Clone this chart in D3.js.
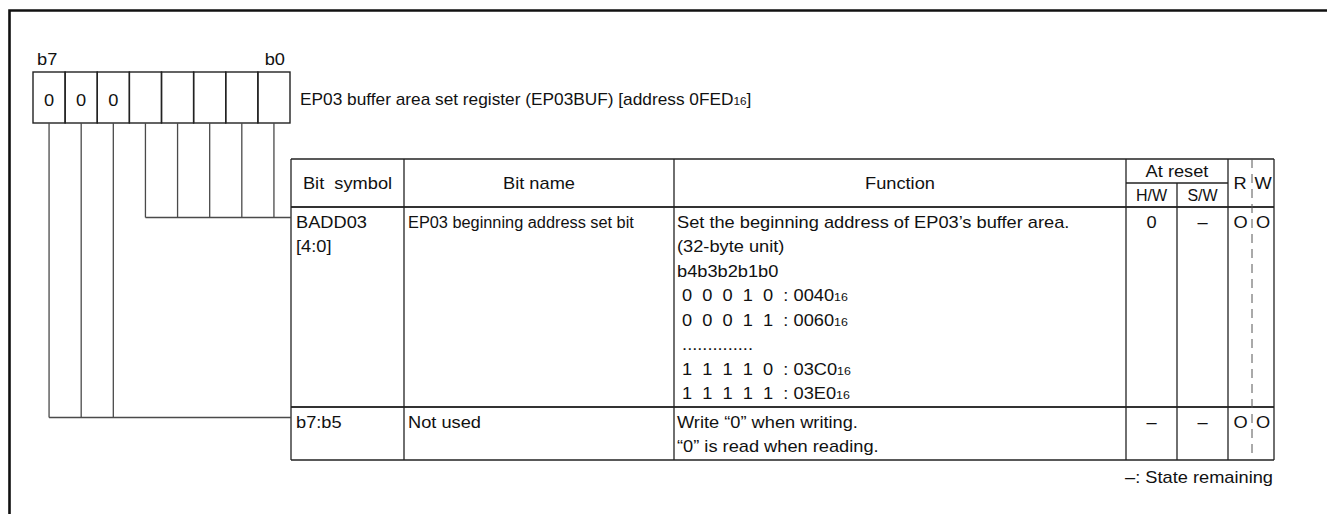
<!DOCTYPE html>
<html><head><meta charset="utf-8">
<script src="https://cdn.jsdelivr.net/npm/d3@7/dist/d3.min.js"></script>
<style>
body{margin:0;background:#fff}
svg{display:block}
text{font-family:"Liberation Sans",Arial,Helvetica,sans-serif;fill:#111}
</style>
</head><body>
<svg id="c" width="1327" height="514"></svg>
<script>
// ---------- data ----------
const bitNames = ["b7","b6","b5","b4","b3","b2","b1","b0"];
const bitValues = ["0","0","0","","","","",""];
const edgeLabels = ["b7","b0"];
const registerTitle = "EP03 buffer area set register (EP03BUF) [address 0FED_{16}]";
const columnHeaders = ["Bit  symbol","Bit name","Function","At reset","R","W"];
const resetSubHeaders = ["H/W","S/W"];
const rowBitRanges = [[4,0],[7,5]];
const bitSymbols = [["BADD03","[4:0]"],["b7:b5"]];
const bitNameCells = [["EP03 beginning address set bit"],["Not used"]];
const functionCells = [
  ["Set the beginning address of EP03\u2019s buffer area.",
   "(32-byte unit)",
   "b4b3b2b1b0",
   " 0  0  0  1  0  : 0040_{16}",
   " 0  0  0  1  1  : 0060_{16}",
   " ..............",
   " 1  1  1  1  0  : 03C0_{16}",
   " 1  1  1  1  1  : 03E0_{16}"],
  ["Write \u201c0\u201d when writing.",
   "\u201c0\u201d is read when reading."]
];
const resetHW = ["0","\u2013"];
const resetSW = ["\u2013","\u2013"];
const readMarks = ["O","O"];
const writeMarks = ["O","O"];
const footNote = "\u2013: State remaining";

// ---------- layout ----------
const svg = d3.select("#c");
const SX = 1.14, FS = 16;
const lineCol = "#222", connCol = "#4a4a4a";

function addText(g, x, y, str, opts = {}) {
  const sx = opts.sx || SX, fs = opts.fs || FS;
  const t = g.append("text")
    .attr("transform", `translate(${x},${y}) scale(${sx},1)`)
    .attr("text-anchor", opts.anchor || "start")
    .attr("font-size", fs)
    .attr("xml:space", "preserve")
    .style("white-space", "pre");
  const parts = str.split(/_\{(\d+)\}/);
  parts.forEach((p, i) => {
    if (!p) return;
    const ts = t.append("tspan").text(p);
    if (i % 2 === 1) ts.attr("font-size", fs * 0.68);
  });
  return t;
}

// outer frame
svg.append("path").attr("d", "M9.5,514 V10.5 H1327")
  .attr("fill", "none").attr("stroke", "#111").attr("stroke-width", 2.6);

// register box
const box = {x0: 33, x1: 290, y0: 72, y1: 123};
const xBit = d3.scaleBand().domain(bitNames).range([box.x0, box.x1]).paddingInner(0).paddingOuter(0);
const gReg = svg.append("g");
gReg.selectAll("rect").data(bitNames).join("rect")
  .attr("x", d => xBit(d)).attr("y", box.y0)
  .attr("width", xBit.bandwidth()).attr("height", box.y1 - box.y0)
  .attr("fill", "none").attr("stroke", lineCol).attr("stroke-width", 1.4);
bitNames.forEach((b, i) => {
  if (bitValues[i]) addText(gReg, xBit(b) + xBit.bandwidth() / 2, 106, bitValues[i], {anchor: "middle"});
});
addText(gReg, xBit("b7") + 4, 65, edgeLabels[0]);
addText(gReg, xBit("b0") + xBit.bandwidth() - 5, 65, edgeLabels[1], {anchor: "end"});
addText(gReg, 300, 105, registerTitle, {sx: 1.08});

// table geometry
const cols = [291, 404, 674, 1126, 1177, 1228, 1252, 1274];
const hdrTop = 159, hdrMid = 183, hdrBot = 207;
const pitch = 24.5;
const lineCounts = functionCells.map((f, i) => Math.max(f.length, bitSymbols[i].length));
const rowTops = [];
let yy = hdrBot;
lineCounts.forEach(n => { rowTops.push(yy); yy += n * pitch + 4; });
const tableBottom = yy;
const rowLine = d3.scaleLinear().domain([0, 1]).range([0, pitch]);
const baseline = (r, k) => rowTops[r] + 20.5 + rowLine(k);

const gT = svg.append("g");
function hline(x0, x1, y, w = 1.3, c = lineCol) {
  gT.append("line").attr("x1", x0).attr("x2", x1).attr("y1", y).attr("y2", y)
    .attr("stroke", c).attr("stroke-width", w);
}
function vline(x, y0, y1, w = 1.3, c = lineCol) {
  gT.append("line").attr("x1", x).attr("x2", x).attr("y1", y0).attr("y2", y1)
    .attr("stroke", c).attr("stroke-width", w);
}
hline(cols[0], cols[7], hdrTop);
hline(cols[3], cols[5], hdrMid);
hline(cols[0], cols[7], hdrBot, 1.8, "#333");
rowTops.slice(1).forEach(y => hline(cols[0], cols[7], y, 1.8, "#333"));
hline(cols[0], cols[7], tableBottom);
[0, 1, 2, 3, 5, 7].forEach(i => vline(cols[i], hdrTop, tableBottom));
vline(cols[4], hdrMid, tableBottom);
gT.append("line").attr("x1", cols[6]).attr("x2", cols[6]).attr("y1", hdrTop).attr("y2", tableBottom)
  .attr("stroke", "#555").attr("stroke-width", 1).attr("stroke-dasharray", "9,6");

// headers
const hY = 188.5;
addText(gT, (cols[0] + cols[1]) / 2, hY, columnHeaders[0], {anchor: "middle"});
addText(gT, (cols[1] + cols[2]) / 2, hY, columnHeaders[1], {anchor: "middle"});
addText(gT, (cols[2] + cols[3]) / 2, hY, columnHeaders[2], {anchor: "middle"});
addText(gT, (cols[3] + cols[5]) / 2, 177, columnHeaders[3], {anchor: "middle"});
addText(gT, (cols[3] + cols[4]) / 2, 201, resetSubHeaders[0], {anchor: "middle", sx: 1.0});
addText(gT, (cols[4] + cols[5]) / 2, 201, resetSubHeaders[1], {anchor: "middle", sx: 1.0});
addText(gT, (cols[5] + cols[6]) / 2, hY, columnHeaders[4], {anchor: "middle"});
addText(gT, (cols[6] + cols[7]) / 2, hY, columnHeaders[5], {anchor: "middle"});

// rows
functionCells.forEach((fl, r) => {
  bitSymbols[r].forEach((s, k) => addText(gT, cols[0] + 5, baseline(r, k), s));
  bitNameCells[r].forEach((s, k) => addText(gT, cols[1] + 4, baseline(r, k), s, {sx: r === 0 ? 1.02 : SX}));
  fl.forEach((s, k) => addText(gT, cols[2] + 3, baseline(r, k), s));
  addText(gT, (cols[3] + cols[4]) / 2, baseline(r, 0), resetHW[r], {anchor: "middle"});
  addText(gT, (cols[4] + cols[5]) / 2, baseline(r, 0), resetSW[r], {anchor: "middle"});
  addText(gT, (cols[5] + cols[6]) / 2 + 0.5, baseline(r, 0), readMarks[r], {anchor: "middle"});
  addText(gT, (cols[6] + cols[7]) / 2, baseline(r, 0), writeMarks[r], {anchor: "middle"});
});

addText(gT, 1273, 483, footNote, {anchor: "end"});

// connectors
const gC = svg.append("g");
rowBitRanges.forEach(([hi, lo], r) => {
  const y = baseline(r, 0) - 10;
  const bits = d3.range(hi, lo - 1, -1).map(b => "b" + b);
  const xs = bits.map(b => xBit(b) + xBit.bandwidth() / 2);
  xs.forEach(x => gC.append("line").attr("x1", x).attr("x2", x).attr("y1", box.y1).attr("y2", y)
    .attr("stroke", connCol).attr("stroke-width", 1.3));
  gC.append("line").attr("x1", d3.min(xs)).attr("x2", cols[0]).attr("y1", y).attr("y2", y)
    .attr("stroke", connCol).attr("stroke-width", 1.3);
});
</script>
</body></html>
